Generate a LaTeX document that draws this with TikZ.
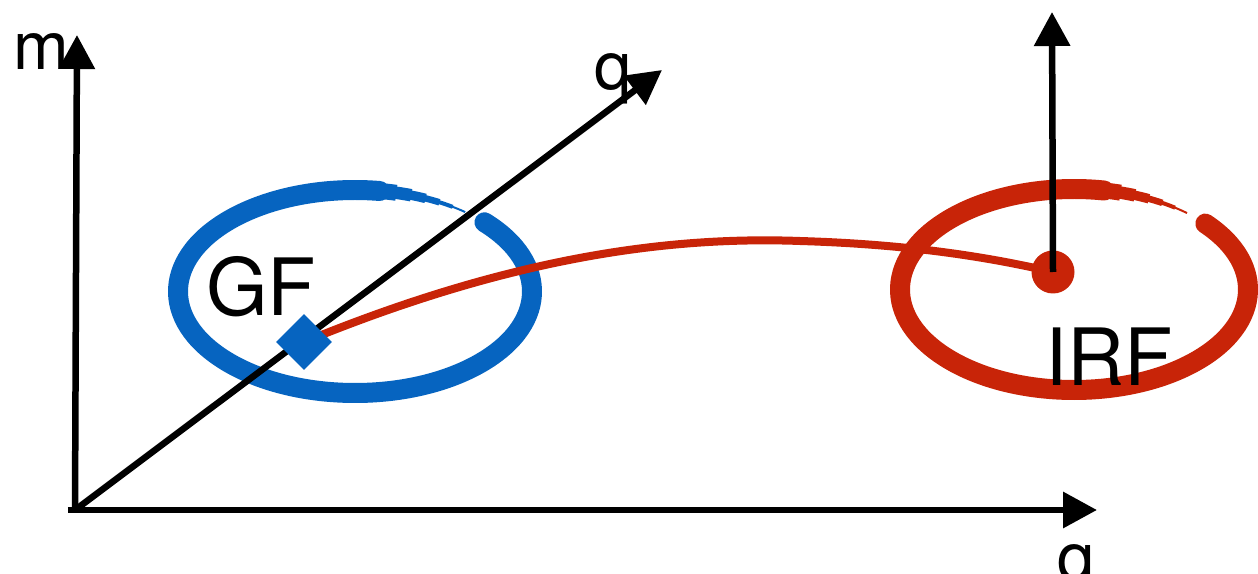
\documentclass[tikz,border=0pt]{standalone}
\usepackage{fontspec}
\setmainfont{TeX Gyre Heros}
\usepackage{xcolor}
\usetikzlibrary{arrows.meta,shapes,positioning}
\definecolor{gfblue}{RGB}{6,100,192}
\definecolor{irfred}{RGB}{200,36,8}
\tikzset{Axis/.style={line width=0.13cm,-{Triangle[length=0.68cm,width=0.7cm]}}}
\tikzset{Ring/.style={draw=#1,line width=0.4cm,line cap=round}}
\tikzset{Tag/.style={inner sep=0pt,font=\fontsize{38}{38}\selectfont}}
\tikzset{BigTag/.style={inner sep=0pt,font=\fontsize{45}{45}\selectfont}}

\begin{document}
\begin{tikzpicture}[x=0.02cm,y=0.02cm]
            \useasboundingbox (0,0) rectangle (1258,-574);
            \coordinate (gfc) at (355,-291.5);
            \coordinate (irfc) at (1074,-289.5);
            \coordinate (o) at (75,-510);
            \coordinate (mtip) at (77,-35);
            \coordinate (qtip) at (662,-70);
            \coordinate (xtip) at (1097,-510);
            \coordinate (vtip) at (1052,-12);
            % brush rings, thinning out at the top right
            \draw[Ring=gfblue] (gfc) ++(43:177 and 101.5) arc[start angle=43, end angle=-278, x radius=177, y radius=101.5];
            \foreach \a/\w in {-278/0.32,-283/0.25,-288/0.19,-293/0.13,-298/0.08,-303/0.04}
              \draw[gfblue, line width=\w cm] (gfc) ++(\a:177 and 101.5) arc[start angle=\a, end angle=\a-5.5, x radius=177, y radius=101.5];
            \draw[Ring=irfred] (irfc) ++(41:174 and 100.5) arc[start angle=41, end angle=-280, x radius=174, y radius=100.5];
            \foreach \a/\w in {-280/0.32,-285/0.25,-290/0.19,-295/0.13,-300/0.08,-305/0.04}
              \draw[irfred, line width=\w cm] (irfc) ++(\a:174 and 100.5) arc[start angle=\a, end angle=\a-5.5, x radius=174, y radius=100.5];
            \node[circle, fill=irfred, minimum size=0.86cm, inner sep=0pt] (irf) at (1053,-272) {};
            \coordinate (gfpt) at (304,-342);
            \draw[irfred, line width=0.16cm] (gfpt) .. controls (480,-270) and (640,-235) .. (800,-241) .. controls (900,-244) and (980,-255) .. (irf.center);
            % axes
            \draw[Axis] (o) -- (mtip);
            \draw[Axis] (o) -- (qtip);
            \draw[Axis] ([xshift=-4]o) -- (xtip);
            \draw[Axis] (irf.center) -- (vtip);
            \node[rectangle, fill=gfblue, minimum size=0.79cm, inner sep=0pt, rotate=45] (gf) at (gfpt) {};
            % labels
            \node[Tag, anchor=base east] (mlab) at (69,-70) {m};
            \node[Tag, anchor=base west] (qlab) at (594,-90) {q};
            \node[Tag, anchor=base west] (xlab) at (1057,-580) {q};
            \node[BigTag, anchor=base west] (gflab) at (206,-316) {GF};
            \node[BigTag, anchor=base west] (irflab) at (1045,-385) {IRF};
        \end{tikzpicture}
\end{document}
